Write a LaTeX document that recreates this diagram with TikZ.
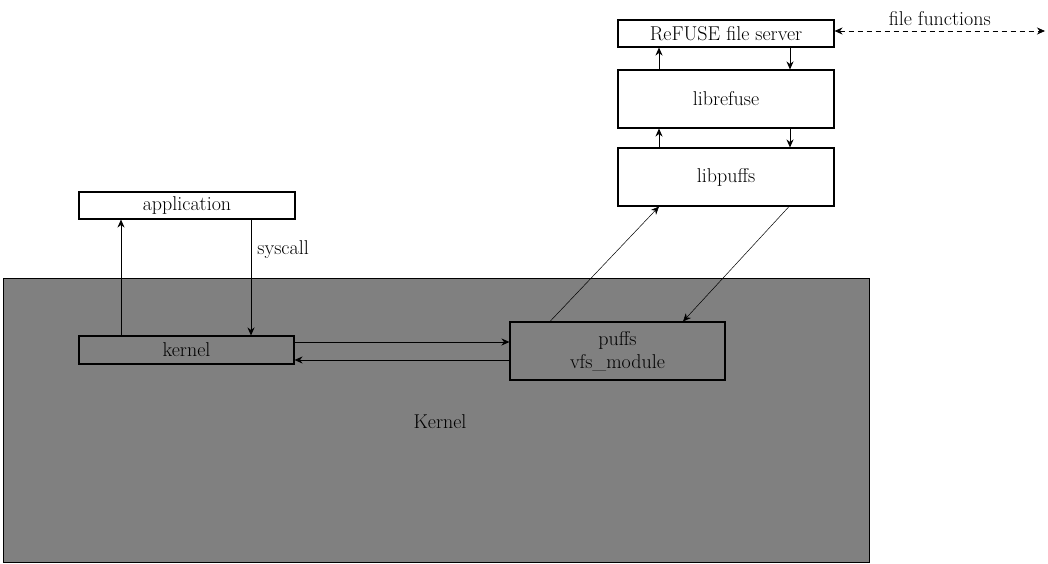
\documentclass[tikz,border=0pt]{standalone}
\usepackage{tikz}
\usepackage{xcolor}
\usetikzlibrary{arrows.meta, positioning, calc}
\definecolor{cKernel}{RGB}{128,128,128}
\tikzset{
	layer/.style    ={rectangle, draw=black, line width=1.1pt, inner sep=0pt, align=center},
	userbox/.style  ={layer, fill=white},
	kbox/.style     ={layer},
	sig/.style      ={-{Stealth[length=8pt, width=7pt]}, line width=0.8pt},
	thinsig/.style  ={-{Stealth[length=8pt, width=7pt]}, line width=0.5pt},
	dsig/.style     ={{Stealth[length=8pt, width=7pt]}-{Stealth[length=8pt, width=7pt]}, line width=0.8pt, dash pattern=on 5pt off 4pt},
	lbl/.style      ={inner sep=0pt},
}

\begin{document}
\begin{tikzpicture}[x=1pt, y=-1pt, font=\fontsize{20}{23}\selectfont]
					\useasboundingbox (0,0) rectangle (1048,564);
					% kernel space
					\node[rectangle, draw=black, line width=1pt, fill=cKernel, minimum width=866pt, minimum height=284pt, inner sep=0pt] (kspace) at (436,420) {};
					\node[lbl] (klbl) at (440,422) {Kernel};
					% boxes
					\node[userbox, minimum width=216pt, minimum height=27pt] (app) at (187,205.5) {application};
					\node[kbox, minimum width=215pt, minimum height=28pt] (kern) at (186.5,350) {kernel};
					\node[kbox, minimum width=215pt, minimum height=58pt] (puffs) at (617.5,351) {puffs\\vfs\_module};
					\node[userbox, minimum width=216pt, minimum height=27pt] (refuse) at (726,33.5) {ReFUSE file server};
					\node[userbox, minimum width=216pt, minimum height=58pt] (librefuse) at (726,99) {librefuse};
					\node[userbox, minimum width=216pt, minimum height=58pt] (libpuffs) at (726,177) {libpuffs};
					\coordinate (ffend) at (1045,31);
					% application <-> kernel
					\draw[sig] ([xshift=-65.5pt]kern.north) -- ([xshift=-66pt]app.south);
					\draw[sig] ([xshift=64pt]app.south) -- ([xshift=64.5pt]kern.north) node[pos=0.26, right=6pt, lbl] (sys) {syscall};
					\draw[sig] ([yshift=8pt]kern.east) -- ([yshift=8pt]kern.east -| puffs.west);
					\draw[sig] ([yshift=-10pt]kern.east -| puffs.west) -- ([yshift=-10pt]kern.east);
					% userland stack
					\draw[sig] ([xshift=-67pt]librefuse.north) -- ([xshift=-67pt]refuse.south);
					\draw[sig] ([xshift=64pt]refuse.south) -- ([xshift=64pt]librefuse.north);
					\draw[sig] ([xshift=-67pt]libpuffs.north) -- ([xshift=-67pt]librefuse.south);
					\draw[sig] ([xshift=64pt]librefuse.south) -- ([xshift=64pt]libpuffs.north);
					\draw[thinsig] ([xshift=-67.5pt]puffs.north) -- ([xshift=-67pt]libpuffs.south);
					\draw[thinsig] ([xshift=63pt]libpuffs.south) -- ([xshift=65.5pt]puffs.north);
					\draw[dsig] (refuse.east |- ffend) -- (ffend) node[midway, above=5pt, lbl] (fflbl) {file functions};
				\end{tikzpicture}
\end{document}
